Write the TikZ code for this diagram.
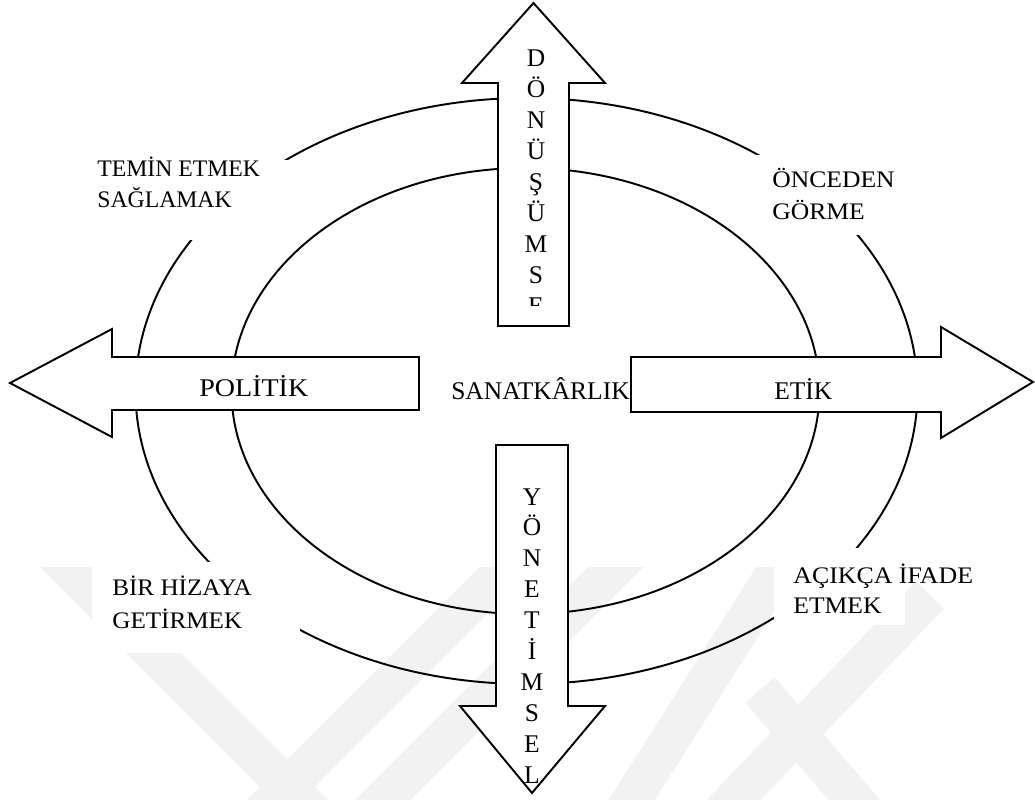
\documentclass[tikz,border=0pt]{standalone}
\usepackage{fontspec}
\usepackage{graphicx}
\setmainfont{Liberation Serif}
\begin{document}
\begin{tikzpicture}[x=0.02cm,y=-0.02cm,line join=miter,
  edge/.style={line width=1.1pt},
  arrowshape/.style={draw=black,fill=white,line width=1.1pt},
  big/.style={font=\fontsize{14.5}{17}\selectfont,inner sep=0pt},
  lbl/.style={font=\fontsize{13.5}{16}\selectfont,inner sep=0pt},
  wm/.style={line width=0.78cm,draw=black!5,line cap=butt},
  cover/.style={fill=white}]
\useasboundingbox (0,0) rectangle (1035,800);
% faint watermark
\begin{scope}
  \clip (0,567) rectangle (1035,800);
  \draw[wm] (-100,399.5) -- (360,859.5);
  \draw[wm] (200,874) -- (560,514);
  \draw[wm] (300,883) -- (680,503);
  \draw[wm] (600,850) -- (790,550);
  \draw[wm] (700,835) -- (930,595);
  \draw[wm] (760,690) -- (880,830);
\end{scope}
% ellipses
\draw[edge] (525.5,391) ellipse [x radius=294, y radius=223];
\draw[edge] (526.5,391) ellipse [x radius=391, y radius=293];
% white label boxes
\fill[cover] (90,160) rectangle (295,240);
\fill[cover] (745,155) rectangle (905,235);
\fill[cover] (92,562) rectangle (300,653);
\fill[cover] (774,548) rectangle (905,625);
% arrows
\draw[arrowshape] (498,326) -- (498,83) -- (462,83) -- (533.5,3) -- (605,83) -- (569,83) -- (569,326) -- cycle;
\draw[arrowshape] (496,445) -- (568,445) -- (568,706) -- (605,706) -- (532,793) -- (460,706) -- (496,706) -- cycle;
\draw[arrowshape] (419,357) -- (112,357) -- (112,329) -- (10,383) -- (112,437) -- (112,410) -- (419,410) -- cycle;
\draw[arrowshape] (631,357) -- (941,357) -- (941,327) -- (1033,382) -- (941,438) -- (941,412) -- (631,412) -- cycle;
% vertical texts
\begin{scope}
  \clip (498,0) rectangle (569,306);
  \foreach \l [count=\i from 0] in {D,Ö,N,Ü,Ş,Ü,M,S,E}
    \node[big,anchor=base] (up\i) at (536,{67+30.9*\i}) {\l};
\end{scope}
\foreach \l [count=\i from 0] in {Y,Ö,N,E,T,İ,M,S,E,L}
  \node[big,anchor=base] (dn\i) at (532,{505+30.9*\i}) {\l};
% horizontal texts
\node[big,anchor=base west] (pol) at (199,397) {\scalebox{1.1}[1]{POLİTİK}};
\node[big,anchor=base west] (etik) at (774,400) {ETİK};
\node[big,anchor=base east] (san) at (630,400) {SANATKÂRLIK};
\node[lbl,anchor=base west] (tem1) at (97,177) {TEMİN ETMEK};
\node[lbl,anchor=base west] (tem2) at (97,208) {SAĞLAMAK};
\node[lbl,anchor=base west] (onc1) at (772,188) {\scalebox{1.08}[1]{ÖNCEDEN}};
\node[lbl,anchor=base west] (onc2) at (772,220) {\scalebox{1.08}[1]{GÖRME}};
\node[lbl,anchor=base west] (bir1) at (112,595) {\scalebox{1.06}[1]{BİR HİZAYA}};
\node[lbl,anchor=base west] (bir2) at (112,628) {\scalebox{1.06}[1]{GETİRMEK}};
\node[lbl,anchor=base west] (aci1) at (793,583) {\scalebox{1.09}[1]{AÇIKÇA İFADE}};
\node[lbl,anchor=base west] (aci2) at (793,613) {\scalebox{1.08}[1]{ETMEK}};
\end{tikzpicture}
\end{document}
